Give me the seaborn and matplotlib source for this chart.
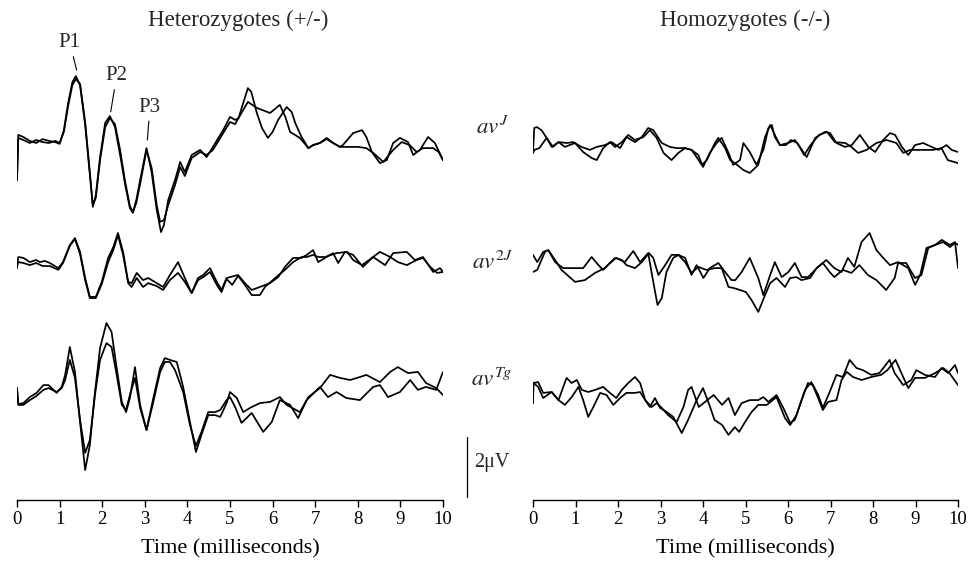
import matplotlib
matplotlib.use("Agg")
import matplotlib.pyplot as plt
import numpy as np
import pandas as pd
import seaborn as sns

# ---------------- data (time in ms, amplitude in microvolts) ----------------
het_J_t1 = [0, 0.03, 0.15, 0.3, 0.45, 0.6, 0.75, 0.9, 1.0, 1.1, 1.2, 1.3, 1.38, 1.48, 1.6, 1.7, 1.78, 1.85, 1.95, 2.07, 2.18, 2.3, 2.42, 2.54, 2.65, 2.72, 2.8, 2.9, 3.04, 3.16, 3.28, 3.38, 3.45, 3.55, 3.71, 3.83, 3.94, 4.1, 4.3, 4.45, 4.6, 4.84, 5.0, 5.12, 5.2, 5.42, 5.5, 5.63, 5.75, 5.89, 6.0, 6.13, 6.33, 6.45, 6.53, 6.68, 6.84, 6.95, 7.11, 7.27, 7.42, 7.58, 7.65, 7.89, 8.1, 8.2, 8.33, 8.52, 8.68, 8.83, 8.99, 9.18, 9.3, 9.46, 9.65, 9.81, 10.0]
het_J_v1 = [-1.33, 0.17, 0.10, -0.03, -0.10, 0.03, -0.03, -0.07, -0.13, 0.33, 1.23, 1.93, 2.13, 1.83, 0.50, -1.00, -2.23, -1.83, -0.57, 0.57, 0.80, 0.43, -0.50, -1.50, -2.27, -2.43, -2.00, -1.27, -0.27, -1.07, -2.33, -3.07, -2.83, -2.00, -1.33, -0.73, -1.07, -0.50, -0.33, -0.57, -0.23, 0.33, 0.77, 0.67, 0.73, 1.73, 1.60, 0.90, 0.40, 0.07, 0.27, 0.67, 1.10, 0.93, 0.57, 0.10, -0.27, -0.17, -0.10, 0.07, -0.10, -0.23, -0.17, 0.23, 0.33, 0.10, -0.40, -0.77, -0.67, -0.10, 0.07, -0.07, -0.50, -0.33, 0.10, -0.10, -0.67]
het_J_t2 = [0, 0.03, 0.15, 0.3, 0.45, 0.6, 0.75, 0.9, 1.0, 1.1, 1.2, 1.3, 1.38, 1.48, 1.6, 1.7, 1.78, 1.85, 1.95, 2.07, 2.18, 2.3, 2.42, 2.54, 2.65, 2.72, 2.8, 2.9, 3.04, 3.16, 3.28, 3.36, 3.45, 3.55, 3.71, 3.83, 3.94, 4.1, 4.3, 4.45, 4.6, 4.84, 5.0, 5.12, 5.2, 5.42, 5.63, 5.94, 6.17, 6.3, 6.41, 6.64, 6.84, 6.95, 7.11, 7.27, 7.42, 7.58, 7.8, 8.0, 8.2, 8.36, 8.6, 8.83, 9.03, 9.22, 9.38, 9.53, 9.77, 9.9, 10.0]
het_J_v2 = [-1.33, 0.07, 0.00, -0.10, 0.00, -0.07, -0.10, -0.03, -0.10, 0.27, 1.13, 1.83, 2.03, 1.87, 0.60, -0.93, -2.17, -1.93, -0.67, 0.43, 0.73, 0.53, -0.33, -1.40, -2.20, -2.40, -2.10, -1.40, -0.33, -0.93, -2.17, -2.73, -2.67, -2.17, -1.50, -0.90, -1.20, -0.60, -0.40, -0.50, -0.33, 0.23, 0.60, 0.53, 0.73, 1.27, 1.07, 0.90, 1.17, 0.77, 0.27, 0.07, -0.27, -0.17, -0.10, 0.03, -0.10, -0.23, -0.23, -0.23, -0.27, -0.43, -0.73, -0.33, -0.07, -0.17, -0.40, -0.27, -0.27, -0.40, -0.67]

het_2J_t1 = [0, 0.03, 0.15, 0.3, 0.45, 0.54, 0.65, 0.77, 0.97, 1.08, 1.24, 1.36, 1.48, 1.6, 1.71, 1.85, 1.99, 2.14, 2.26, 2.37, 2.49, 2.61, 2.69, 2.81, 2.96, 3.08, 3.28, 3.43, 3.59, 3.78, 3.94, 4.1, 4.25, 4.37, 4.53, 4.69, 4.8, 4.92, 5.19, 5.35, 5.51, 5.7, 5.94, 6.13, 6.29, 6.48, 6.68, 6.8, 6.95, 7.07, 7.23, 7.42, 7.54, 7.7, 7.89, 8.12, 8.36, 8.64, 8.83, 9.15, 9.34, 9.53, 9.77, 9.93, 10.0]
het_2J_v1 = [-0.27, 0.10, 0.07, -0.07, 0.00, -0.07, -0.03, -0.10, -0.27, -0.07, 0.50, 0.73, 0.27, -0.60, -1.23, -1.23, -0.73, 0.07, 0.43, 0.90, 0.27, -0.73, -0.77, -0.43, -0.67, -0.60, -0.77, -0.90, -0.50, -0.07, -0.60, -1.10, -0.60, -0.50, -0.27, -0.73, -1.00, -0.60, -0.50, -0.77, -1.00, -0.90, -0.77, -0.57, -0.23, 0.07, 0.07, 0.17, 0.33, -0.07, 0.07, 0.23, -0.10, 0.27, 0.17, -0.23, 0.10, -0.17, 0.23, 0.27, 0.00, 0.10, -0.40, -0.27, -0.40]
het_2J_t2 = [0, 0.03, 0.15, 0.3, 0.45, 0.6, 0.77, 0.97, 1.08, 1.24, 1.36, 1.48, 1.6, 1.71, 1.85, 1.99, 2.14, 2.26, 2.37, 2.49, 2.61, 2.69, 2.81, 2.96, 3.08, 3.28, 3.43, 3.59, 3.78, 3.94, 4.1, 4.25, 4.37, 4.53, 4.69, 4.8, 4.92, 5.05, 5.19, 5.35, 5.51, 5.7, 5.82, 6.06, 6.29, 6.48, 6.68, 6.8, 6.95, 7.07, 7.23, 7.5, 7.75, 7.89, 8.1, 8.33, 8.52, 8.76, 8.94, 9.15, 9.38, 9.53, 9.7, 9.86, 10.0]
het_2J_v2 = [-0.20, -0.07, -0.10, -0.17, -0.10, -0.20, -0.20, -0.33, -0.10, 0.47, 0.70, 0.20, -0.67, -1.27, -1.27, -0.80, -0.07, 0.33, 0.83, 0.17, -0.77, -0.90, -0.60, -0.90, -0.77, -0.87, -1.00, -0.67, -0.43, -0.73, -1.10, -0.67, -0.57, -0.40, -0.83, -1.07, -0.63, -0.83, -0.53, -0.83, -1.17, -1.17, -0.90, -0.60, -0.33, -0.07, 0.10, 0.10, 0.17, 0.10, 0.10, 0.23, 0.27, 0.00, -0.17, 0.07, 0.27, 0.10, -0.07, -0.17, 0.00, 0.07, -0.23, -0.43, -0.40]

het_Tg_t1 = [0, 0.03, 0.15, 0.3, 0.46, 0.62, 0.74, 0.93, 1.05, 1.13, 1.24, 1.36, 1.48, 1.6, 1.71, 1.83, 1.95, 2.1, 2.22, 2.34, 2.46, 2.56, 2.65, 2.77, 2.89, 3.04, 3.2, 3.36, 3.47, 3.59, 3.75, 3.9, 4.06, 4.2, 4.33, 4.49, 4.65, 4.77, 4.92, 5.0, 5.16, 5.31, 5.47, 5.7, 5.94, 6.17, 6.33, 6.64, 6.84, 7.11, 7.35, 7.58, 7.82, 8.05, 8.2, 8.52, 8.76, 8.94, 9.18, 9.41, 9.6, 9.84, 10.0]
het_Tg_v1 = [0.23, -0.30, -0.27, -0.07, 0.07, 0.33, 0.33, 0.07, 0.27, 0.67, 1.60, 0.77, -0.90, -2.50, -1.67, 0.10, 1.57, 2.40, 2.10, 0.90, -0.23, -0.57, -0.10, 0.93, -0.33, -1.17, -0.10, 0.90, 1.23, 1.17, 1.10, 0.27, -0.90, -1.90, -1.33, -0.67, -0.67, -0.73, -0.27, 0.10, -0.10, -0.57, -0.43, -0.27, -0.23, -0.07, -0.33, -0.57, -0.07, 0.23, 0.67, 0.57, 0.50, 0.60, 0.67, 0.43, 0.77, 0.93, 0.73, 0.77, 0.40, 0.23, 0.00]
het_Tg_t2 = [0, 0.03, 0.15, 0.3, 0.46, 0.62, 0.74, 0.93, 1.05, 1.13, 1.24, 1.36, 1.48, 1.6, 1.71, 1.83, 1.95, 2.1, 2.22, 2.34, 2.46, 2.56, 2.65, 2.77, 2.89, 3.04, 3.2, 3.36, 3.47, 3.59, 3.71, 3.9, 4.06, 4.2, 4.33, 4.49, 4.65, 4.77, 4.92, 5.0, 5.12, 5.27, 5.51, 5.78, 5.98, 6.17, 6.41, 6.6, 6.8, 7.11, 7.3, 7.5, 7.73, 8.05, 8.36, 8.52, 8.71, 8.99, 9.23, 9.41, 9.6, 9.84, 10.0]
het_Tg_v2 = [0.23, -0.33, -0.33, -0.17, -0.03, 0.17, 0.23, 0.10, 0.23, 0.50, 1.17, 0.57, -0.83, -1.93, -1.50, 0.00, 1.17, 1.73, 1.60, 0.67, -0.33, -0.50, 0.00, 0.57, -0.43, -1.17, -0.23, 0.77, 1.10, 1.10, 0.83, 0.10, -1.00, -1.70, -1.23, -0.57, -0.57, -0.50, -0.17, -0.07, -0.40, -0.93, -0.60, -1.23, -0.90, -0.17, -0.33, -0.77, -0.17, 0.27, -0.07, 0.10, -0.10, -0.17, 0.27, 0.33, -0.07, 0.10, 0.50, 0.17, 0.27, 0.17, 0.77]

hom_J_t1 = [0, 0.03, 0.09, 0.2, 0.32, 0.44, 0.6, 0.75, 0.99, 1.18, 1.38, 1.5, 1.65, 1.81, 1.93, 2.09, 2.24, 2.4, 2.6, 2.75, 2.91, 3.07, 3.26, 3.42, 3.58, 3.73, 3.89, 4.0, 4.16, 4.32, 4.44, 4.6, 4.71, 4.87, 4.95, 5.1, 5.26, 5.42, 5.54, 5.62, 5.69, 5.81, 6.01, 6.16, 6.28, 6.44, 6.64, 6.87, 6.99, 7.14, 7.34, 7.5, 7.69, 7.89, 8.05, 8.24, 8.4, 8.52, 8.68, 8.83, 8.99, 9.18, 9.38, 9.54, 9.73, 9.85, 10.0]
hom_J_v1 = [-0.43, 0.40, 0.43, 0.33, 0.07, -0.23, -0.07, -0.23, -0.10, -0.40, -0.60, -0.67, -0.27, -0.07, -0.23, -0.07, 0.17, 0.00, 0.10, 0.33, 0.07, -0.43, -0.67, -0.43, -0.27, -0.33, -0.50, -0.90, -0.43, -0.10, 0.07, -0.43, -0.83, -0.67, -0.10, -0.40, -0.83, -0.33, 0.40, 0.50, 0.10, -0.17, -0.10, 0.00, -0.23, -0.57, 0.07, 0.27, 0.23, -0.10, -0.23, -0.17, 0.17, -0.23, -0.40, 0.00, 0.23, 0.17, -0.23, -0.50, -0.17, -0.10, -0.23, -0.33, -0.17, -0.33, -0.40]
hom_J_t2 = [0, 0.03, 0.15, 0.32, 0.47, 0.6, 0.8, 0.95, 1.14, 1.34, 1.5, 1.69, 1.85, 2.05, 2.2, 2.4, 2.56, 2.71, 2.83, 3.03, 3.22, 3.38, 3.58, 3.73, 3.85, 3.97, 4.09, 4.28, 4.36, 4.52, 4.64, 4.75, 4.95, 5.1, 5.3, 5.46, 5.58, 5.69, 5.81, 5.95, 6.07, 6.22, 6.38, 6.53, 6.73, 6.92, 7.1, 7.35, 7.49, 7.65, 7.85, 8.08, 8.32, 8.55, 8.71, 8.87, 9.1, 9.41, 9.61, 9.76, 10.0]
hom_J_v2 = [-0.43, -0.33, -0.27, 0.07, -0.23, -0.07, -0.10, -0.07, -0.23, -0.33, -0.23, -0.17, -0.07, -0.27, 0.10, -0.07, 0.10, 0.40, 0.33, -0.10, -0.23, -0.27, -0.27, -0.33, -0.57, -0.83, -0.67, -0.10, 0.07, -0.27, -0.67, -0.77, -1.00, -1.10, -0.83, 0.10, 0.50, 0.17, -0.17, -0.17, 0.00, -0.10, -0.50, -0.17, 0.17, 0.27, -0.07, -0.10, -0.23, -0.43, -0.33, -0.10, 0.00, -0.10, -0.43, -0.33, -0.33, -0.33, -0.27, -0.67, -0.77]

hom_2J_t1 = [0, 0.1, 0.28, 0.36, 0.52, 0.71, 0.95, 1.18, 1.38, 1.54, 1.65, 1.81, 1.96, 2.16, 2.36, 2.52, 2.71, 2.83, 2.93, 3.03, 3.14, 3.3, 3.42, 3.58, 3.73, 3.85, 4.01, 4.16, 4.36, 4.52, 4.67, 4.76, 4.91, 5.1, 5.3, 5.42, 5.58, 5.69, 5.85, 6.01, 6.16, 6.32, 6.47, 6.71, 6.9, 7.09, 7.26, 7.41, 7.56, 7.73, 7.92, 8.08, 8.24, 8.4, 8.59, 8.83, 8.99, 9.11, 9.26, 9.46, 9.62, 9.81, 9.93, 10.0]
hom_2J_v1 = [-0.40, -0.33, 0.27, 0.33, -0.07, -0.27, -0.27, -0.27, 0.10, -0.17, -0.33, -0.10, 0.07, -0.07, 0.30, -0.07, 0.23, -0.73, -1.50, -1.27, -0.40, 0.07, 0.17, 0.07, -0.50, -0.17, -0.60, -0.27, -0.10, -0.40, -0.67, -0.67, -0.40, 0.07, -0.60, -1.17, -0.50, -0.07, -0.57, -0.40, -0.10, -0.57, -0.57, -0.23, 0.00, -0.27, -0.40, 0.07, -0.23, 0.60, 0.90, 0.33, 0.07, -0.17, -0.07, -0.27, -0.83, -0.50, 0.40, 0.50, 0.67, 0.50, 0.60, -0.27]
hom_2J_t2 = [0, 0.1, 0.24, 0.36, 0.52, 0.67, 0.99, 1.22, 1.46, 1.69, 1.93, 2.09, 2.2, 2.4, 2.56, 2.73, 2.83, 2.95, 3.11, 3.26, 3.42, 3.58, 3.73, 3.89, 4.08, 4.28, 4.44, 4.6, 4.71, 4.87, 5.01, 5.14, 5.3, 5.46, 5.58, 5.73, 5.93, 6.05, 6.2, 6.32, 6.52, 6.67, 6.82, 6.98, 7.09, 7.29, 7.49, 7.68, 7.88, 8.08, 8.31, 8.51, 8.59, 8.78, 8.99, 9.14, 9.3, 9.46, 9.65, 9.81, 9.93, 10.0]
hom_2J_v2 = [0.17, -0.07, 0.27, 0.33, 0.00, -0.33, -0.73, -0.67, -0.43, -0.27, 0.07, 0.00, -0.17, -0.27, -0.07, 0.23, 0.07, -0.50, -0.17, 0.17, 0.17, -0.07, -0.43, -0.23, -0.33, -0.27, -0.27, -0.90, -0.93, -1.00, -1.07, -1.33, -1.73, -1.17, -0.77, -0.60, -0.90, -0.60, -0.57, -0.67, -0.60, -0.27, -0.10, -0.40, -0.57, -0.33, -0.43, -0.17, -0.50, -0.67, -1.00, -0.60, -0.10, -0.10, -0.60, -0.50, 0.40, 0.50, 0.60, 0.43, 0.57, 0.50]

hom_Tg_t1 = [0, 0.01, 0.12, 0.24, 0.44, 0.6, 0.79, 0.91, 1.03, 1.15, 1.3, 1.46, 1.65, 1.81, 1.96, 2.09, 2.24, 2.4, 2.52, 2.64, 2.79, 2.91, 3.03, 3.18, 3.38, 3.54, 3.65, 3.73, 3.9, 4.1, 4.25, 4.45, 4.6, 4.75, 4.91, 5.1, 5.3, 5.42, 5.54, 5.73, 5.89, 6.05, 6.16, 6.32, 6.47, 6.59, 6.71, 6.82, 6.98, 7.14, 7.29, 7.45, 7.61, 7.76, 7.96, 8.15, 8.39, 8.51, 8.71, 8.9, 9.02, 9.22, 9.46, 9.61, 9.77, 9.93, 10.0]
hom_Tg_v1 = [-0.27, 0.40, 0.43, 0.07, 0.10, -0.17, 0.57, 0.40, 0.50, 0.17, 0.10, 0.17, 0.27, 0.07, -0.10, 0.17, 0.40, 0.60, 0.40, -0.17, -0.40, -0.27, -0.43, -0.67, -0.90, -0.40, 0.17, 0.27, -0.40, -0.17, 0.00, -0.33, -0.10, -0.67, -0.27, -0.17, -0.17, -0.07, -0.23, 0.00, -0.43, -0.93, -0.83, -0.17, 0.40, 0.33, 0.00, -0.43, 0.10, 0.67, 0.60, 1.17, 0.90, 0.83, 0.67, 0.73, 1.17, 0.73, 0.33, 0.50, 0.83, 0.67, 0.60, 0.90, 0.73, 1.00, 0.73]
hom_Tg_t2 = [0, 0.01, 0.12, 0.24, 0.44, 0.6, 0.75, 0.91, 1.07, 1.18, 1.3, 1.42, 1.58, 1.73, 1.89, 2.05, 2.2, 2.4, 2.52, 2.64, 2.75, 2.87, 2.99, 3.15, 3.3, 3.5, 3.65, 3.85, 4.0, 4.15, 4.27, 4.45, 4.6, 4.75, 4.85, 4.99, 5.14, 5.3, 5.5, 5.73, 5.93, 6.05, 6.2, 6.4, 6.55, 6.71, 6.82, 6.94, 7.14, 7.26, 7.38, 7.53, 7.73, 7.96, 8.19, 8.34, 8.53, 8.71, 8.83, 8.99, 9.22, 9.46, 9.65, 9.8, 10.0]
hom_Tg_v2 = [-0.27, 0.40, 0.27, -0.10, 0.10, -0.17, -0.33, -0.07, 0.27, -0.17, -0.73, -0.40, 0.07, 0.00, -0.33, -0.10, 0.07, 0.07, 0.10, -0.17, -0.40, -0.10, -0.43, -0.57, -0.73, -1.27, -0.83, -0.17, 0.23, -0.33, -0.83, -1.00, -1.33, -1.07, -1.23, -0.90, -0.57, -0.33, -0.33, -0.07, -0.77, -1.00, -0.67, 0.17, 0.43, -0.10, -0.50, -0.23, -0.17, 0.50, 0.77, 0.60, 0.50, 0.60, 0.67, 0.83, 1.17, 0.60, 0.23, 0.57, 0.57, 0.73, 0.90, 0.73, 0.33]

panels = ["Heterozygotes (+/-)", "Homozygotes (-/-)"]
genotypes = ["J", "2J", "Tg"]
genotype_labels = [r"$av^{J}$", r"$av^{2J}$", r"$av^{Tg}$"]
peak_labels = ["P1", "P2", "P3"]
x_ticks = list(range(0, 11))
x_label = "Time (milliseconds)"
scale_label = "2\u03bcV"

# ---------------- layout (not data) ----------------
ROW_OFFSET = {"J": 12.0, "2J": 8.0, "Tg": 3.5}

traces = [
    (panels[0], "J", 1, het_J_t1, het_J_v1), (panels[0], "J", 2, het_J_t2, het_J_v2),
    (panels[0], "2J", 1, het_2J_t1, het_2J_v1), (panels[0], "2J", 2, het_2J_t2, het_2J_v2),
    (panels[0], "Tg", 1, het_Tg_t1, het_Tg_v1), (panels[0], "Tg", 2, het_Tg_t2, het_Tg_v2),
    (panels[1], "J", 1, hom_J_t1, hom_J_v1), (panels[1], "J", 2, hom_J_t2, hom_J_v2),
    (panels[1], "2J", 1, hom_2J_t1, hom_2J_v1), (panels[1], "2J", 2, hom_2J_t2, hom_2J_v2),
    (panels[1], "Tg", 1, hom_Tg_t1, hom_Tg_v1), (panels[1], "Tg", 2, hom_Tg_t2, hom_Tg_v2),
]
rows = []
for panel, geno, k, t, v in traces:
    assert len(t) == len(v), (panel, geno, k, len(t), len(v))
    for ti, vi in zip(t, v):
        rows.append(dict(panel=panel, genotype=geno, trace=f"{geno}-{k}", time=ti, uV=vi))
df = pd.DataFrame(rows)
df["y"] = df["uV"] + df["genotype"].map(ROW_OFFSET)

sns.set_theme(style="ticks")
plt.rcParams["font.family"] = ["Liberation Serif", "DejaVu Serif"]
plt.rcParams["mathtext.fontset"] = "stix"

W, H = 971, 567
fig = plt.figure(figsize=(W / 100, H / 100), dpi=100)
axL = fig.add_axes([17 / W, 67 / H, 426 / W, 460 / H])
axR = fig.add_axes([533 / W, 67 / H, 425 / W, 460 / H])

for ax, panel in [(axL, panels[0]), (axR, panels[1])]:
    sns.lineplot(data=df[df["panel"] == panel], x="time", y="y", units="trace",
                 estimator=None, sort=False, color="black", linewidth=1.25,
                 ax=ax, legend=False)
    ax.set_xlim(0, 10)
    ax.set_ylim(0, 460 / 30)
    ax.set_xticks(x_ticks)
    ax.set_xticklabels([str(x) for x in x_ticks])
    ax.set_yticks([])
    ax.set_ylabel("")
    ax.set_xlabel(x_label, fontsize=16, labelpad=8, color="black")
    for s in ["top", "right", "left"]:
        ax.spines[s].set_visible(False)
    ax.spines["bottom"].set_color("black")
    ax.spines["bottom"].set_linewidth(1.0)
    ax.tick_params(axis="x", direction="out", length=5, width=1.0, colors="black",
                   labelsize=13.5, pad=3)
    ax.patch.set_alpha(0)

# panel titles
fig.text(238 / W, 1 - 20 / H, panels[0], ha="center", va="center", fontsize=16.5)
fig.text(745 / W, 1 - 20 / H, panels[1], ha="center", va="center", fontsize=16.5)

# genotype labels
for lab, ypx in zip(genotype_labels, [128, 262, 380]):
    fig.text(492 / W, 1 - ypx / H, lab, ha="center", va="center", fontsize=16.5)

# peak labels with leader lines
peak_text = [(1.24, 15.25), (2.34, 14.15), (3.12, 13.1)]
peak_tip = [(1.40, 14.33), (2.20, 12.94), (3.06, 12.0)]
for lab, (tx, ty), (px, py) in zip(peak_labels, peak_text, peak_tip):
    axL.annotate(lab, xy=(px, py), xytext=(tx, ty), ha="center", va="center",
                 fontsize=15, annotation_clip=False,
                 arrowprops=dict(arrowstyle="-", lw=0.8, color="black",
                                 shrinkA=1, shrinkB=0))

# scale bar (2 microvolts)
axL.plot([10.56, 10.56], [0.1, 2.1], color="black", lw=0.9, clip_on=False)
fig.text(474 / W, 1 - 462 / H, scale_label, ha="left", va="center", fontsize=14.5)

fig.savefig("out.png", dpi=100)
